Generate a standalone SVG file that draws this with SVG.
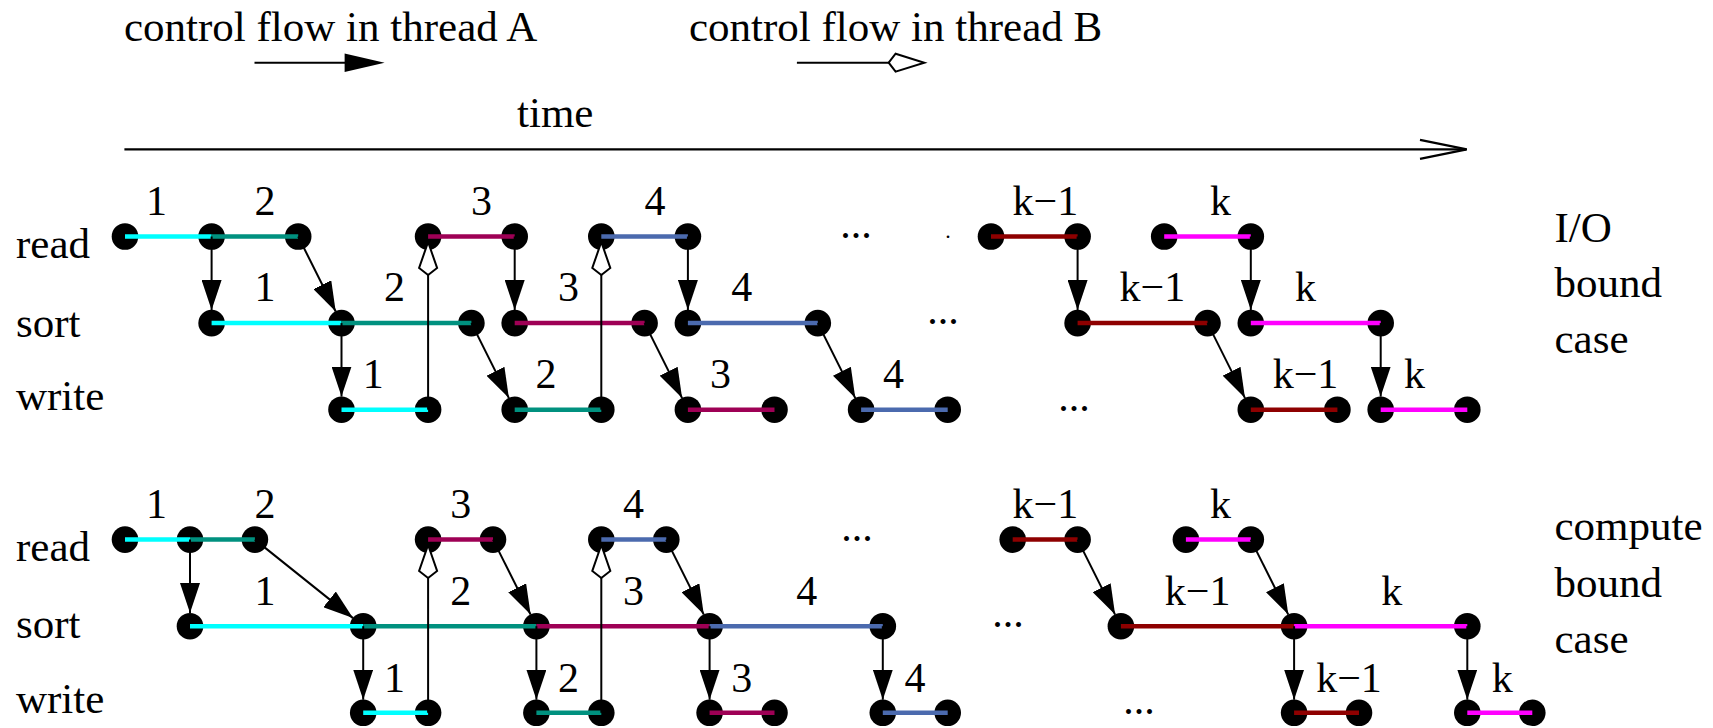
<svg xmlns="http://www.w3.org/2000/svg" width="1713" height="728" viewBox="0 0 1713 728">
<style>
text{font-family:"Liberation Serif","Times New Roman",serif;fill:#000}
.t{font-size:43px}
.lb{font-size:42px;text-anchor:middle}
.dots{font-size:42px;text-anchor:middle}
circle{fill:#000}
.bar{stroke-width:4.5;fill:none}
.c1{stroke:#00FFFF}.c2{stroke:#00917F}.c3{stroke:#9E0055}.c4{stroke:#4B6AAE}.c5{stroke:#8E0000}.c6{stroke:#FF00FF}
.cn{stroke:#000;stroke-width:2;fill:none}
.a{marker-end:url(#ah)}
.b{marker-end:url(#dm)}
</style>
<defs>
<marker id="ah" markerUnits="userSpaceOnUse" markerWidth="30" markerHeight="20" viewBox="0 0 30 20" refX="30" refY="10" orient="auto"><path d="M0,0 L30,10 L0,20 Z" fill="#000"/></marker>
<marker id="dm" markerUnits="userSpaceOnUse" markerWidth="37" markerHeight="24" viewBox="-2 -12 37 24" refX="33" refY="0" orient="auto"><path d="M0,0 L7,-9 L33,0 L7,9 Z" fill="#fff" stroke="#000" stroke-width="2"/></marker>
</defs>

<g id="legend">
<text class="t" x="124" y="41">control flow in thread A</text>
<line x1="254.5" y1="62.7" x2="346" y2="62.7" stroke="#000" stroke-width="2"/>
<path d="M344.6,53.5 L384.6,62.7 L344.6,71.9 Z" fill="#000"/>
<text class="t" x="689" y="41">control flow in thread B</text>
<line x1="796.9" y1="62.7" x2="889" y2="62.7" stroke="#000" stroke-width="2"/>
<path d="M888.7,62.7 L895.6,53.7 L924.3,62.7 L895.6,71.7 Z" fill="#fff" stroke="#000" stroke-width="2"/>
<text class="t" x="517" y="127">time</text>
<line x1="124.4" y1="149.3" x2="1466" y2="149.3" stroke="#000" stroke-width="2.2"/>
<path d="M1420,139.8 L1466.8,149.3 L1420,158.8" fill="none" stroke="#000" stroke-width="2.2"/>
</g>

<g id="row-labels">
<text class="t" x="16" y="257.5">read</text>
<text class="t" x="16" y="336.5">sort</text>
<text class="t" x="16" y="410">write</text>
<text class="t" x="16" y="560.5">read</text>
<text class="t" x="16" y="638">sort</text>
<text class="t" x="16" y="713">write</text>
</g>

<g id="case-labels">
<text class="t" x="1554.5" y="241.7">I/O</text>
<text class="t" x="1554.5" y="296.7">bound</text>
<text class="t" x="1554.5" y="352.7">case</text>
<text class="t" x="1554.5" y="540">compute</text>
<text class="t" x="1554.5" y="596.7">bound</text>
<text class="t" x="1554.5" y="652.7">case</text>
</g>

<g id="io-bound">
<g id="io-read-1"><circle cx="125" cy="236.5" r="13.3"/><circle cx="211.6" cy="236.5" r="13.3"/><line class="bar c1" x1="125" y1="236.5" x2="211.6" y2="236.5"/><text class="lb" x="156.4" y="214.5">1</text></g>
<g id="io-read-2"><circle cx="298.2" cy="236.5" r="13.3"/><line class="bar c2" x1="211.6" y1="236.5" x2="298.2" y2="236.5"/><text class="lb" x="265" y="214.5">2</text></g>
<g id="io-read-3"><circle cx="428.1" cy="236.5" r="13.3"/><circle cx="514.7" cy="236.5" r="13.3"/><line class="bar c3" x1="428.1" y1="236.5" x2="514.7" y2="236.5"/><text class="lb" x="481.4" y="214.5">3</text></g>
<g id="io-read-4"><circle cx="601.3" cy="236.5" r="13.3"/><circle cx="687.9" cy="236.5" r="13.3"/><line class="bar c4" x1="601.3" y1="236.5" x2="687.9" y2="236.5"/><text class="lb" x="655" y="214.5">4</text></g>
<g id="io-read-k1"><circle cx="991" cy="236.5" r="13.3"/><circle cx="1077.6" cy="236.5" r="13.3"/><line class="bar c5" x1="991" y1="236.5" x2="1077.6" y2="236.5"/><text class="lb" x="1045.4" y="214.5">k−1</text></g>
<g id="io-read-k"><circle cx="1164.2" cy="236.5" r="13.3"/><circle cx="1250.8" cy="236.5" r="13.3"/><line class="bar c6" x1="1164.2" y1="236.5" x2="1250.8" y2="236.5"/><text class="lb" x="1220.5" y="214.5">k</text></g>
<text class="dots" x="856" y="237.5">...</text>
<text class="dots" x="948" y="238" style="font-size:22px">.</text>

<g id="io-sort-1"><circle cx="211.6" cy="323.1" r="13.3"/><circle cx="341.5" cy="323.1" r="13.3"/><line class="bar c1" x1="211.6" y1="323.1" x2="341.5" y2="323.1"/><text class="lb" x="265" y="301">1</text></g>
<g id="io-sort-2"><circle cx="471.4" cy="323.1" r="13.3"/><line class="bar c2" x1="341.5" y1="323.1" x2="471.4" y2="323.1"/><text class="lb" x="394.6" y="301">2</text></g>
<g id="io-sort-3"><circle cx="514.7" cy="323.1" r="13.3"/><circle cx="644.6" cy="323.1" r="13.3"/><line class="bar c3" x1="514.7" y1="323.1" x2="644.6" y2="323.1"/><text class="lb" x="568.6" y="301">3</text></g>
<g id="io-sort-4"><circle cx="687.9" cy="323.1" r="13.3"/><circle cx="817.8" cy="323.1" r="13.3"/><line class="bar c4" x1="687.9" y1="323.1" x2="817.8" y2="323.1"/><text class="lb" x="741.8" y="301">4</text></g>
<g id="io-sort-k1"><circle cx="1077.6" cy="323.1" r="13.3"/><circle cx="1207.5" cy="323.1" r="13.3"/><line class="bar c5" x1="1077.6" y1="323.1" x2="1207.5" y2="323.1"/><text class="lb" x="1152.3" y="301">k−1</text></g>
<g id="io-sort-k"><circle cx="1250.8" cy="323.1" r="13.3"/><circle cx="1380.7" cy="323.1" r="13.3"/><line class="bar c6" x1="1250.8" y1="323.1" x2="1380.7" y2="323.1"/><text class="lb" x="1305.5" y="301">k</text></g>
<text class="dots" x="943" y="324">...</text>

<g id="io-write-1"><circle cx="341.5" cy="409.7" r="13.3"/><circle cx="428.1" cy="409.7" r="13.3"/><line class="bar c1" x1="341.5" y1="409.7" x2="428.1" y2="409.7"/><text class="lb" x="373.2" y="387.7">1</text></g>
<g id="io-write-2"><circle cx="514.7" cy="409.7" r="13.3"/><circle cx="601.3" cy="409.7" r="13.3"/><line class="bar c2" x1="514.7" y1="409.7" x2="601.3" y2="409.7"/><text class="lb" x="546" y="387.7">2</text></g>
<g id="io-write-3"><circle cx="687.9" cy="409.7" r="13.3"/><circle cx="774.5" cy="409.7" r="13.3"/><line class="bar c3" x1="687.9" y1="409.7" x2="774.5" y2="409.7"/><text class="lb" x="720.4" y="387.7">3</text></g>
<g id="io-write-4"><circle cx="861.1" cy="409.7" r="13.3"/><circle cx="947.7" cy="409.7" r="13.3"/><line class="bar c4" x1="861.1" y1="409.7" x2="947.7" y2="409.7"/><text class="lb" x="893.6" y="387.7">4</text></g>
<g id="io-write-k1"><circle cx="1250.8" cy="409.7" r="13.3"/><circle cx="1337.4" cy="409.7" r="13.3"/><line class="bar c5" x1="1250.8" y1="409.7" x2="1337.4" y2="409.7"/><text class="lb" x="1305.5" y="387.7">k−1</text></g>
<g id="io-write-k"><circle cx="1380.7" cy="409.7" r="13.3"/><circle cx="1467.3" cy="409.7" r="13.3"/><line class="bar c6" x1="1380.7" y1="409.7" x2="1467.3" y2="409.7"/><text class="lb" x="1414.5" y="387.7">k</text></g>
<text class="dots" x="1074" y="410.5">...</text>
</g>

<g id="compute-bound">
<g id="cb-read-1"><circle cx="125" cy="539.6" r="13.3"/><circle cx="190" cy="539.6" r="13.3"/><line class="bar c1" x1="125" y1="539.6" x2="190" y2="539.6"/><text class="lb" x="156.4" y="517.7">1</text></g>
<g id="cb-read-2"><circle cx="254.9" cy="539.6" r="13.3"/><line class="bar c2" x1="190" y1="539.6" x2="254.9" y2="539.6"/><text class="lb" x="265" y="517.7">2</text></g>
<g id="cb-read-3"><circle cx="428.1" cy="539.6" r="13.3"/><circle cx="493" cy="539.6" r="13.3"/><line class="bar c3" x1="428.1" y1="539.6" x2="493" y2="539.6"/><text class="lb" x="460.7" y="517.7">3</text></g>
<g id="cb-read-4"><circle cx="601.3" cy="539.6" r="13.3"/><circle cx="666.3" cy="539.6" r="13.3"/><line class="bar c4" x1="601.3" y1="539.6" x2="666.3" y2="539.6"/><text class="lb" x="633.6" y="517.7">4</text></g>
<g id="cb-read-k1"><circle cx="1012.7" cy="539.6" r="13.3"/><circle cx="1077.6" cy="539.6" r="13.3"/><line class="bar c5" x1="1012.7" y1="539.6" x2="1077.6" y2="539.6"/><text class="lb" x="1045.4" y="517.7">k−1</text></g>
<g id="cb-read-k"><circle cx="1185.9" cy="539.6" r="13.3"/><circle cx="1250.8" cy="539.6" r="13.3"/><line class="bar c6" x1="1185.9" y1="539.6" x2="1250.8" y2="539.6"/><text class="lb" x="1220.5" y="517.7">k</text></g>
<text class="dots" x="857" y="540.5">...</text>

<g id="cb-sort-1"><circle cx="190" cy="626.2" r="13.3"/><circle cx="363.2" cy="626.2" r="13.3"/><line class="bar c1" x1="190" y1="626.2" x2="363.2" y2="626.2"/><text class="lb" x="265" y="604.5">1</text></g>
<g id="cb-sort-2"><circle cx="536.4" cy="626.2" r="13.3"/><line class="bar c2" x1="363.2" y1="626.2" x2="536.4" y2="626.2"/><text class="lb" x="460.7" y="604.5">2</text></g>
<g id="cb-sort-3"><circle cx="709.6" cy="626.2" r="13.3"/><line class="bar c3" x1="536.4" y1="626.2" x2="709.6" y2="626.2"/><text class="lb" x="633.6" y="604.5">3</text></g>
<g id="cb-sort-4"><circle cx="882.8" cy="626.2" r="13.3"/><line class="bar c4" x1="709.6" y1="626.2" x2="882.8" y2="626.2"/><text class="lb" x="806.8" y="604.5">4</text></g>
<g id="cb-sort-k1"><circle cx="1120.9" cy="626.2" r="13.3"/><circle cx="1294.1" cy="626.2" r="13.3"/><line class="bar c5" x1="1120.9" y1="626.2" x2="1294.1" y2="626.2"/><text class="lb" x="1197.7" y="604.5">k−1</text></g>
<g id="cb-sort-k"><circle cx="1467.3" cy="626.2" r="13.3"/><line class="bar c6" x1="1294.1" y1="626.2" x2="1467.3" y2="626.2"/><text class="lb" x="1391.8" y="604.5">k</text></g>
<text class="dots" x="1008" y="627">...</text>

<g id="cb-write-1"><circle cx="363.2" cy="712.8" r="13.3"/><circle cx="428.1" cy="712.8" r="13.3"/><line class="bar c1" x1="363.2" y1="712.8" x2="428.1" y2="712.8"/><text class="lb" x="394.6" y="691.7">1</text></g>
<g id="cb-write-2"><circle cx="536.4" cy="712.8" r="13.3"/><circle cx="601.3" cy="712.8" r="13.3"/><line class="bar c2" x1="536.4" y1="712.8" x2="601.3" y2="712.8"/><text class="lb" x="568.6" y="691.7">2</text></g>
<g id="cb-write-3"><circle cx="709.6" cy="712.8" r="13.3"/><circle cx="774.5" cy="712.8" r="13.3"/><line class="bar c3" x1="709.6" y1="712.8" x2="774.5" y2="712.8"/><text class="lb" x="741.8" y="691.7">3</text></g>
<g id="cb-write-4"><circle cx="882.8" cy="712.8" r="13.3"/><circle cx="947.7" cy="712.8" r="13.3"/><line class="bar c4" x1="882.8" y1="712.8" x2="947.7" y2="712.8"/><text class="lb" x="915" y="691.7">4</text></g>
<g id="cb-write-k1"><circle cx="1294.1" cy="712.8" r="13.3"/><circle cx="1359" cy="712.8" r="13.3"/><line class="bar c5" x1="1294.1" y1="712.8" x2="1359" y2="712.8"/><text class="lb" x="1349" y="691.7">k−1</text></g>
<g id="cb-write-k"><circle cx="1467.3" cy="712.8" r="13.3"/><circle cx="1532.3" cy="712.8" r="13.3"/><line class="bar c6" x1="1467.3" y1="712.8" x2="1532.3" y2="712.8"/><text class="lb" x="1502.3" y="691.7">k</text></g>
<text class="dots" x="1139" y="714">...</text>
</g>

<g id="connectors">
<line class="cn a" x1="211.6" y1="236.5" x2="211.6" y2="310"/>
<line class="cn a" x1="298.2" y1="236.5" x2="335.7" y2="311.5"/>
<line class="cn a" x1="341.5" y1="323.1" x2="341.5" y2="396.6"/>
<line class="cn a" x1="471.4" y1="323.1" x2="508.9" y2="398.1"/>
<line class="cn a" x1="514.7" y1="236.5" x2="514.7" y2="310"/>
<line class="cn a" x1="644.6" y1="323.1" x2="682.1" y2="398.1"/>
<line class="cn a" x1="687.9" y1="236.5" x2="687.9" y2="310"/>
<line class="cn a" x1="817.8" y1="323.1" x2="855.3" y2="398.1"/>
<line class="cn a" x1="1077.6" y1="236.5" x2="1077.6" y2="310"/>
<line class="cn a" x1="1207.5" y1="323.1" x2="1245" y2="398.1"/>
<line class="cn a" x1="1250.8" y1="236.5" x2="1250.8" y2="310"/>
<line class="cn a" x1="1380.7" y1="323.1" x2="1380.7" y2="396.6"/>
<line class="cn b" x1="428.1" y1="409.7" x2="428.1" y2="242"/>
<line class="cn b" x1="601.3" y1="409.7" x2="601.3" y2="242"/>

<line class="cn a" x1="190" y1="539.6" x2="190" y2="613"/>
<line class="cn a" x1="254.9" y1="539.6" x2="353" y2="618.1"/>
<line class="cn a" x1="363.2" y1="626.2" x2="363.2" y2="699.7"/>
<line class="cn a" x1="493" y1="539.6" x2="530.6" y2="614.6"/>
<line class="cn a" x1="536.4" y1="626.2" x2="536.4" y2="699.7"/>
<line class="cn a" x1="666.3" y1="539.6" x2="703.8" y2="614.6"/>
<line class="cn a" x1="709.6" y1="626.2" x2="709.6" y2="699.7"/>
<line class="cn a" x1="882.8" y1="626.2" x2="882.8" y2="699.7"/>
<line class="cn a" x1="1077.6" y1="539.6" x2="1115.1" y2="614.6"/>
<line class="cn a" x1="1250.8" y1="539.6" x2="1288.3" y2="614.6"/>
<line class="cn a" x1="1294.1" y1="626.2" x2="1294.1" y2="699.7"/>
<line class="cn a" x1="1467.3" y1="626.2" x2="1467.3" y2="699.7"/>
<line class="cn b" x1="428.1" y1="712.8" x2="428.1" y2="545"/>
<line class="cn b" x1="601.3" y1="712.8" x2="601.3" y2="545"/>
</g>
</svg>
